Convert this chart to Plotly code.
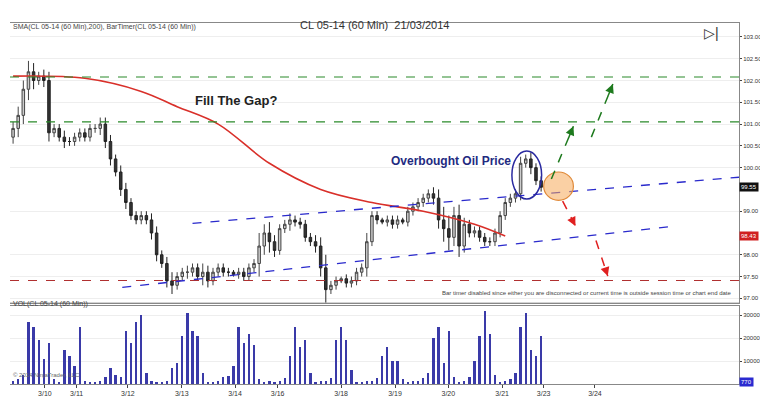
import plotly.graph_objects as go

closes = [100.9,101.2,101.8,102.2,102.0,102.1,102.0,
          100.8,100.9,100.7,100.6,100.6,100.7,100.8,100.7,100.9,100.9,101.0,
          100.6,100.2,99.9,99.5,99.2,98.9,98.8,98.9,98.8,98.5,98.0,97.8,97.4,97.3,
          97.5,97.6,97.6,97.7,97.5,97.6,97.4,97.6,97.7,97.6,97.6,97.55,97.6,97.5,97.7,97.8,
          98.2,98.5,98.3,98.1,98.6,98.7,98.8,98.75,98.7,98.4,98.3,98.2,97.7,97.2,
          97.3,97.4,97.45,97.35,97.4,97.6,97.7,98.3,98.9,98.8,98.75,98.8,98.7,98.8,98.75,
          99.0,99.1,99.2,99.3,99.4,99.3,98.8,98.6,98.4,98.9,98.2,98.7,98.5,98.55,98.4,
          98.3,98.3,98.5,98.9,99.2,99.3,99.4,100.1,100.2,100.0,99.7,99.55]
first_open = 100.7
wicks = [0.15,0.2,0.2,0.25,0.2,0.1,0.15,0.2,0.1,0.1,0.15,0.1,0.1,0.1,0.1,0.1,0.1,0.15,
         0.15,0.15,0.1,0.15,0.15,0.1,0.1,0.1,0.1,0.15,0.15,0.1,0.15,0.2,
         0.1,0.1,0.15,0.1,0.1,0.2,0.15,0.1,0.1,0.1,0.1,0.05,0.1,0.1,0.1,0.1,
         0.3,0.2,0.25,0.15,0.1,0.1,0.15,0.1,0.1,0.1,0.1,0.15,0.2,0.3,
         0.1,0.1,0.05,0.1,0.1,0.1,0.1,0.2,0.1,0.1,0.05,0.1,0.1,0.1,0.05,
         0.1,0.1,0.1,0.1,0.1,0.15,0.2,0.3,0.3,0.2,0.25,0.15,0.1,0.1,0.1,
         0.1,0.1,0.1,0.1,0.1,0.1,0.1,0.15,0.1,0.15,0.1,0.1]
volumes = [1500,2000,4000,27000,25000,19000,11000,18000,2000,1000,15000,12000,8000,25000,1500,1000,
           1000,1200,3000,7000,4000,3000,23000,18000,27000,30000,5000,1200,1000,1000,1500,7000,
           9000,21000,31000,23000,21000,5000,1000,1000,1500,3000,3500,8000,25000,18000,22000,17000,
           2000,1000,1500,1000,1200,2500,12000,25000,16000,19000,5000,1000,1200,1500,2500,
           19000,25000,19000,6000,1000,1000,1200,1500,2500,12000,16000,10000,10000,2000,1000,
           1200,1500,2500,5000,20000,25000,9000,23000,3000,1000,1500,3000,10000,21000,32000,
           22000,4000,1000,1200,2000,5000,25000,31000,15000,12000,21000]

tick_vals = [6.2,12.4,22.4,32.9,43.3,51.6,64.0,74.5,84.9,95.4,103.5,113.5]
tick_text = ["3/10","3/11","3/12","3/13","3/14","3/16","3/18","3/19","3/20","3/21","3/23","3/24"]
sma_x = [0,14,25,32,40,50,60,70,80,90,96]
sma_y = [102.1,102.05,101.75,101.4,101.0,100.1,99.5,99.2,99.0,98.7,98.43]
price_ticks = [97,97.5,98,99,100,100.5,101,101.5,102,102.5,103]

n = len(closes)
idx = list(range(n))
opens = [first_open] + closes[:-1]
highs = [max(o, c) + w for o, c, w in zip(opens, closes, wicks[:n])]
lows = [min(o, c) - w for o, c, w in zip(opens, closes, wicks[:n])]

fig = go.Figure()
fig.add_trace(go.Candlestick(x=idx, open=opens, high=highs, low=lows, close=closes,
    increasing=dict(line=dict(color="#444", width=1), fillcolor="#cccccc"),
    decreasing=dict(line=dict(color="#222", width=1), fillcolor="#333333"),
    whiskerwidth=0, xaxis="x", yaxis="y", showlegend=False))
fig.add_trace(go.Scatter(x=sma_x, y=sma_y, mode="lines", line=dict(color="#d9302a", width=1.6, shape="spline"),
    xaxis="x", yaxis="y", showlegend=False))
fig.add_trace(go.Bar(x=idx, y=volumes[:n], marker=dict(color="#3a3aa8", line=dict(width=0)), width=0.45,
    xaxis="x2", yaxis="y2", showlegend=False))

X0, X1 = -0.6, 141.6
shapes = []
for yv, col in [(102.08, "#2a8a2a"), (101.05, "#2a8a2a"), (97.41, "#b03030")]:
    shapes.append(dict(type="line", xref="x", yref="y", x0=X0, x1=X1, y0=yv, y1=yv,
                       line=dict(color=col, width=1.2, dash="dash")))
shapes.append(dict(type="line", xref="x", yref="y", x0=35.0, y0=98.72, x1=141.6, y1=99.78,
                   line=dict(color="#2a2acc", width=1.3, dash="dash")))
shapes.append(dict(type="line", xref="x", yref="y", x0=21.3, y0=97.25, x1=128.6, y1=98.65,
                   line=dict(color="#2a2acc", width=1.3, dash="dash")))
shapes.append(dict(type="circle", xref="x", yref="y", x0=97.3, x1=103.1, y0=99.28, y1=100.38,
                   line=dict(color="#2a2aa0", width=1.5)))
shapes.append(dict(type="circle", xref="x", yref="y", x0=103.5, x1=109.3, y0=99.25, y1=99.9,
                   fillcolor="rgba(245,170,90,0.55)", line=dict(color="#e08a3a", width=1.2)))
shapes.append(dict(type="line", xref="paper", yref="paper", x0=0, x1=1, y0=0.224, y1=0.224,
                   line=dict(color="#888", width=1)))
arrows = [(105.0, 99.74, 109.3, 100.95, "#1e7a1e"), (112.8, 100.70, 117.0, 101.92, "#1e7a1e"),
          (107.2, 99.23, 109.7, 98.66, "#e02020"), (113.7, 98.33, 116.0, 97.51, "#e02020")]
for (x0, y0, x1, y1, col) in arrows:
    shapes.append(dict(type="line", xref="x", yref="y", x0=x0, y0=y0, x1=x1, y1=y1,
                       line=dict(color=col, width=1.5, dash="dash")))

ann = []
for (x0, y0, x1, y1, col) in arrows:
    ann.append(dict(x=x1, y=y1, ax=x1 - (x1 - x0) * 0.25, ay=y1 - (y1 - y0) * 0.25, xref="x", yref="y",
                    axref="x", ayref="y", showarrow=True, arrowhead=2, arrowsize=1.2, arrowwidth=1.5,
                    arrowcolor=col, text=""))
ann += [
    dict(text="CL 05-14 (60 Min)  21/03/2014", x=0.5, y=1, xref="paper", yref="paper", yshift=6, showarrow=False,
         font=dict(size=11, color="#333")),
    dict(text="SMA(CL 05-14 (60 Min),200), BarTimer(CL 05-14 (60 Min))", x=0.002, y=103.22, xref="paper", yref="y",
         xanchor="left", showarrow=False, font=dict(size=7, color="#444")),
    dict(text="<b>Fill The Gap?</b>", x=43.5, y=101.55, xref="x", yref="y", showarrow=False,
         font=dict(size=13, color="#222", family="Arial")),
    dict(text="<b>Overbought Oil Price</b>", x=85.5, y=100.15, xref="x", yref="y", showarrow=False,
         font=dict(size=12, color="#222a80", family="Arial")),
    dict(text="Bar timer disabled since either you are disconnected or current time is outside session time or chart end date",
         x=140.5, y=97.13, xref="x", yref="y", xanchor="right", showarrow=False, font=dict(size=6, color="#444")),
    dict(text="VOL(CL 05-14 (60 Min))", x=0.002, y=0.205, xref="paper", yref="paper", xanchor="left",
         showarrow=False, font=dict(size=7, color="#444")),
    dict(text="99.55", x=1.0, y=99.55, xref="paper", yref="y", xanchor="left", showarrow=False,
         bgcolor="#111", font=dict(size=6, color="white")),
    dict(text="98.43", x=1.0, y=98.43, xref="paper", yref="y", xanchor="left", showarrow=False,
         bgcolor="#d02020", font=dict(size=6, color="white")),
    dict(text="770", x=1.0, y=700, xref="paper", yref="y2", xanchor="left", showarrow=False,
         bgcolor="#2a2ad0", font=dict(size=6, color="white")),
    dict(text="▷|", x=0.975, y=103.1, xref="paper", yref="y", showarrow=False, font=dict(size=14, color="#333")),
    dict(text="© 2014 NinjaTrader, LLC", x=0.002, y=0.01, xref="paper", yref="paper", xanchor="left",
         showarrow=False, font=dict(size=6, color="#666")),
]

fig.update_layout(
    width=768, height=401, margin=dict(l=2, r=37, t=15, b=25),
    paper_bgcolor="white", plot_bgcolor="white", font=dict(family="Arial", size=6, color="#333"),
    shapes=shapes, annotations=ann, showlegend=False, bargap=0,
    xaxis=dict(domain=[0, 1], range=[X0, X1], anchor="y", showticklabels=False, showgrid=False,
               rangeslider=dict(visible=False), showline=True, linecolor="#888", mirror=True, zeroline=False),
    yaxis=dict(domain=[0.224, 1], range=[96.89, 103.32], side="right", tickvals=price_ticks,
               ticktext=[f"{v:.2f}" for v in price_ticks],
               ticks="outside", ticklen=2, tickfont=dict(size=6), gridcolor="#eeeeee", showline=True, linecolor="#888",
               zeroline=False),
    xaxis2=dict(domain=[0, 1], range=[X0, X1], anchor="y2", tickvals=tick_vals, ticktext=tick_text,
                tickfont=dict(size=7), showgrid=False, showline=True, linecolor="#888", mirror=True,
                ticks="outside", ticklen=3, zeroline=False),
    yaxis2=dict(domain=[0, 0.216], range=[0, 34000], side="right", tickvals=[10000, 20000, 30000],
                ticktext=["10000", "20000", "30000"], ticks="outside", ticklen=2, tickfont=dict(size=6),
                gridcolor="#eeeeee", showline=True, linecolor="#888", zeroline=False),
)
fig.write_html("out.html")
